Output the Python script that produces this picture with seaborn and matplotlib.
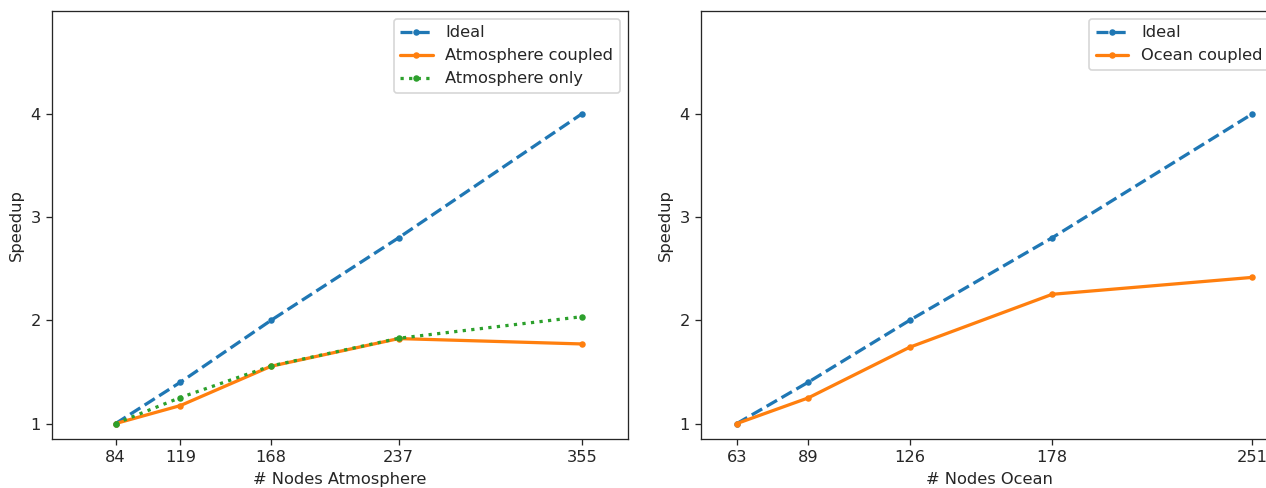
import matplotlib
matplotlib.use("Agg")
import matplotlib.pyplot as plt
import seaborn as sns

# ---- data ----
atm_nodes_pos = [84, 119, 168, 237, 336]          # plotting positions
atm_tick_labels = ["84", "119", "168", "237", "355"]
atm_ideal = [1.0, 1.4, 2.0, 2.8, 4.0]
atm_coupled = [1.0, 1.174, 1.555, 1.823, 1.771]
atm_only = [1.0, 1.252, 1.558, 1.826, 2.035]

ocn_nodes_pos = [63, 89, 126, 178, 251]
ocn_tick_labels = ["63", "89", "126", "178", "251"]
ocn_ideal = [1.0, 1.4, 2.0, 2.8, 4.0]
ocn_coupled = [1.0, 1.248, 1.739, 2.252, 2.416]

sns.set_style("ticks")
plt.rcParams["font.family"] = ["DejaVu Sans"]
plt.rcParams["font.size"] = 10

DPI = 116.7
fig = plt.figure(figsize=(1266 / DPI, 488 / DPI), dpi=DPI)
ax1 = fig.add_axes([0.0411, 0.1004, 0.455, 0.8777])
ax2 = fig.add_axes([0.5537, 0.1004, 0.455, 0.8777])

lw = 2.0
ms = 4.0

def draw(ax, x, y, label, color, ls):
    sns.lineplot(x=x, y=y, ax=ax, label=label, color=color, linestyle=ls,
                 marker="o", markersize=ms, markeredgewidth=0, linewidth=lw,
                 sort=False, legend=False)

draw(ax1, atm_nodes_pos, atm_ideal, "Ideal", "#1f77b4", "--")
draw(ax1, atm_nodes_pos, atm_coupled, "Atmosphere coupled", "#ff7f0e", "-")
draw(ax1, atm_nodes_pos, atm_only, "Atmosphere only", "#2ca02c", ":")

draw(ax2, ocn_nodes_pos, ocn_ideal, "Ideal", "#1f77b4", "--")
draw(ax2, ocn_nodes_pos, ocn_coupled, "Ocean coupled", "#ff7f0e", "-")

for ax, pos, labels, xlabel, xlim in [
    (ax1, atm_nodes_pos, atm_tick_labels, "# Nodes Atmosphere", (49.6, 361)),
    (ax2, ocn_nodes_pos, ocn_tick_labels, "# Nodes Ocean", (49.9, 260)),
]:
    ax.set_xticks(pos)
    ax.set_xticklabels(labels)
    ax.set_yticks([1, 2, 3, 4])
    ax.set_ylim(0.85, 5.0)
    ax.set_xlim(*xlim)
    ax.set_xlabel(xlabel)
    ax.set_ylabel("Speedup")
    ax.legend(loc="upper right")

fig.savefig("out.png", dpi=DPI)
